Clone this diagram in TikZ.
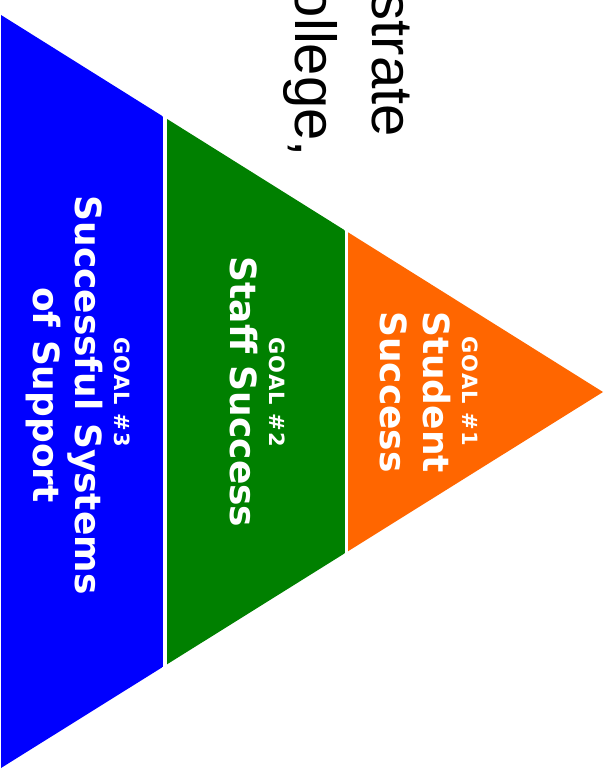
\documentclass[tikz,border=0pt]{standalone}
\usepackage{fontspec}
\setmainfont{Liberation Sans}
\newfontfamily\labelfont{DejaVu Sans}
\newfontfamily\goalfont[LetterSpace=6]{DejaVu Sans}
\definecolor{blue}{RGB}{0,0,255}
\definecolor{green}{RGB}{0,128,0}
\definecolor{orange}{RGB}{255,102,0}

\begin{document}
\begin{tikzpicture}[x=1pt,y=-1pt,
  goal/.style={text=white, rotate=-90, anchor=base, inner sep=0pt,
    font=\goalfont\bfseries\fontsize{21}{21}\selectfont},
  title/.style={text=white, rotate=-90, anchor=base, inner sep=0pt,
    font=\labelfont\bfseries\fontsize{36}{36}\selectfont},
  slide/.style={rotate=-90, anchor=base east, inner sep=0pt,
    font=\fontsize{58}{58}\selectfont}]
  \useasboundingbox (0,0) rectangle (608,775);
  \clip (0,0) rectangle (608,775);
  %% Slide text behind the pyramid
  \node[slide] (line1) at (372,137) {strate};
  \node[slide] (line2) at (295,157) {ollege,};
  %% Pyramid, turned on its side
  \coordinate (top) at (1,15);
  \coordinate (bottom) at (1,768);
  \coordinate (apex) at (603,392);
  \begin{scope}
    \clip (top) -- (apex) -- (bottom) -- cycle;
    \fill[blue]   (0,0) rectangle (163,775);
    \fill[green]  (167,0) rectangle (345,775);
    \fill[orange] (348,0) rectangle (608,775);
  \end{scope}
  %% Goal #1
  \node[goal]  (goal1)  at (462,391) {GOAL \#1};
  \node[title] (stud)   at (423,392) {Student};
  \node[title] (succ1)  at (380,392) {Success};
  %% Goal #2
  \node[goal]  (goal2)  at (269,392) {GOAL \#2};
  \node[title] (staff)  at (230,392) {Staff Success};
  %% Goal #3
  \node[goal]  (goal3)  at (114,392) {GOAL \#3};
  \node[title] (succ3)  at (75,395)  {Successful Systems};
  \node[title] (supp)   at (33,395)  {of Support};
\end{tikzpicture}
\end{document}
